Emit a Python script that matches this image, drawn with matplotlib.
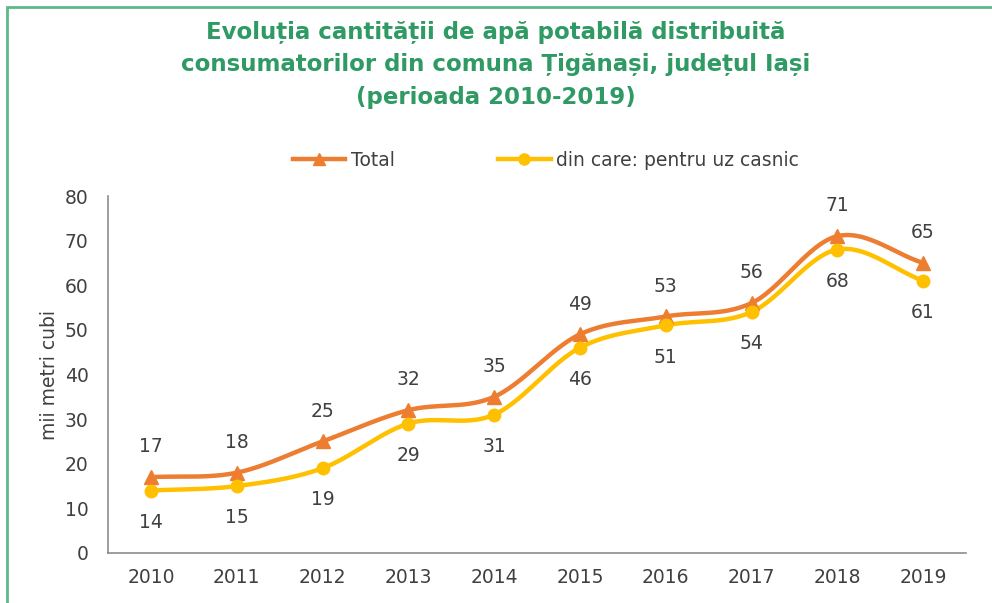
import numpy as np
import matplotlib.pyplot as plt
from matplotlib.lines import Line2D
from matplotlib.patches import Rectangle

years = ['2010', '2011', '2012', '2013', '2014', '2015', '2016', '2017', '2018', '2019']
total = [17, 18, 25, 32, 35, 49, 53, 56, 71, 65]
casnic = [14, 15, 19, 29, 31, 46, 51, 54, 68, 61]

ORANGE = '#ED7D31'
YELLOW = '#FFC000'
TEXT = '#404040'
GREEN = '#2F9A64'


def smooth(x, y, n=30):
    # catmull-rom curve through the points, like excel "smoothed line"
    x = np.asarray(x, float)
    y = np.asarray(y, float)
    px = np.concatenate([[2 * x[0] - x[1]], x, [2 * x[-1] - x[-2]]])
    py = np.concatenate([[2 * y[0] - y[1]], y, [2 * y[-1] - y[-2]]])
    xs, ys = [], []
    t = np.linspace(0, 1, n)
    for i in range(1, len(px) - 2):
        for p, out in ((px, xs), (py, ys)):
            p0, p1, p2, p3 = p[i - 1], p[i], p[i + 1], p[i + 2]
            out.append(0.5 * (2 * p1 + (-p0 + p2) * t
                              + (2 * p0 - 5 * p1 + 4 * p2 - p3) * t ** 2
                              + (-p0 + 3 * p1 - 3 * p2 + p3) * t ** 3))
    return np.concatenate(xs), np.concatenate(ys)


plt.rcParams['font.family'] = 'DejaVu Sans'
fig = plt.figure(figsize=(9.92, 6.03), dpi=100)
fig.patches.append(Rectangle((7 / 992, -0.1), 1.2, (603 - 7) / 603 + 0.1, transform=fig.transFigure,
                             fill=False, edgecolor='#5DB98A', linewidth=2.0))

ax = fig.add_axes([108 / 992, (603 - 553) / 603, (966 - 108) / 992, (553 - 196) / 603])
x = np.arange(len(years))

sx, sy = smooth(x, total)
ax.plot(sx, sy, color=ORANGE, lw=3.2, zorder=3, solid_capstyle='round')
ax.plot(x, total, ls='none', marker='^', ms=10, color=ORANGE, zorder=4)
cx, cy = smooth(x, casnic)
ax.plot(cx, cy, color=YELLOW, lw=3.2, zorder=3, solid_capstyle='round')
ax.plot(x, casnic, ls='none', marker='o', ms=9, color=YELLOW, zorder=4)

for i in range(len(years)):
    ax.annotate(str(total[i]), (x[i], total[i]), xytext=(0, 15), textcoords='offset points',
                ha='center', va='bottom', fontsize=13.5, color=TEXT)
    ax.annotate(str(casnic[i]), (x[i], casnic[i]), xytext=(0, -16), textcoords='offset points',
                ha='center', va='top', fontsize=13.5, color=TEXT)

ax.set_xlim(-0.5, 9.5)
ax.set_ylim(0, 80)
ax.set_yticks(range(0, 81, 10))
ax.set_xticks(x)
ax.set_xticklabels(years)
ax.tick_params(length=0, labelsize=13.5, colors=TEXT)
ax.tick_params(axis='x', pad=11)
ax.tick_params(axis='y', pad=14)
for s in ['top', 'right']:
    ax.spines[s].set_visible(False)
for s in ['left', 'bottom']:
    ax.spines[s].set_color('#8C8C8C')
    ax.spines[s].set_linewidth(1.2)
ax.set_ylabel('mii metri cubi', fontsize=13.5, color=TEXT, labelpad=4)

fig.text(0.5, 0.966, 'Evoluția cantității de apă potabilă distribuită\n'
         'consumatorilor din comuna Țigănași, județul Iași\n(perioada 2010-2019)',
         ha='center', va='top', fontsize=16.5, fontweight='bold', color=GREEN, linespacing=1.55)

handles = [Line2D([], [], color=ORANGE, lw=3.2, marker='^', ms=9),
           Line2D([], [], color=YELLOW, lw=3.2, marker='o', ms=8)]
fig.legend(handles, ['Total', 'din care: pentru uz casnic'], loc='center',
           bbox_to_anchor=(546 / 992, 1 - 160 / 603), ncol=2, frameon=False,
           fontsize=13.5, handlelength=2.8, columnspacing=5.5, handletextpad=0.3,
           labelcolor=TEXT)

fig.savefig('out.png', dpi=100)
